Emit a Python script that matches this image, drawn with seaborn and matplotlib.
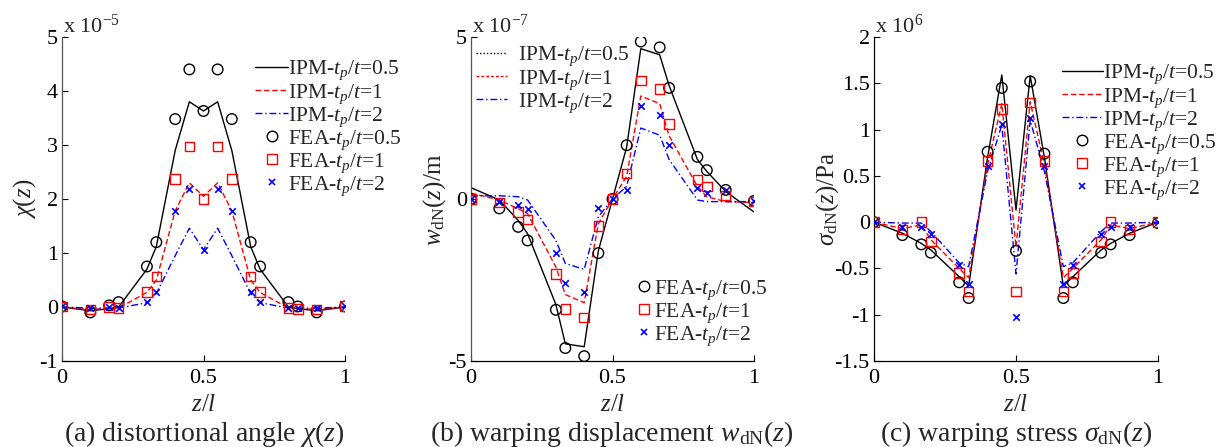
import numpy as np
import matplotlib
matplotlib.use("Agg")
import matplotlib.pyplot as plt
from matplotlib.lines import Line2D
import seaborn as sns

# Section positions along the girder (z/l)
z = [0, 0.1, 1/6, 0.2, 0.3, 1/3, 0.4, 0.45, 0.5, 0.55, 0.6, 2/3, 0.7, 0.8, 5/6, 0.9, 1.0]

# (a) distortional angle chi(z), units of 1e-5
chi_ipm_05 = [0, -0.07, -0.03, 0.0, 0.70, 1.12, 2.90, 3.80, 3.63, 3.80, 2.90, 1.12, 0.70, 0.0, -0.03, -0.07, 0]
chi_ipm_1 = [0, -0.05, -0.02, -0.02, 0.27, 0.50, 1.78, 2.30, 2.05, 2.30, 1.78, 0.50, 0.27, -0.02, -0.02, -0.05, 0]
chi_ipm_2 = [0, -0.02, -0.02, -0.02, 0.08, 0.25, 0.95, 1.46, 1.06, 1.46, 0.95, 0.25, 0.08, -0.02, -0.02, -0.02, 0]
chi_fea_05 = [0.01, -0.10, 0.03, 0.09, 0.75, 1.20, 3.48, 4.40, 3.63, 4.40, 3.48, 1.20, 0.75, 0.09, 0.01, -0.10, 0.01]
chi_fea_1 = [0.01, -0.05, 0.0, -0.02, 0.28, 0.56, 2.37, 2.97, 2.00, 2.97, 2.37, 0.56, 0.28, -0.02, -0.04, -0.05, 0.02]
chi_fea_2 = [0.01, -0.02, 0.0, -0.02, 0.09, 0.27, 1.78, 2.18, 1.06, 2.18, 1.78, 0.27, 0.09, -0.02, -0.02, -0.02, 0.02]

# (b) warping displacement w_dN(z), units of 1e-7 m
w_ipm_05 = [0.35, -0.03, -0.66, -1.07, -3.26, -4.47, -4.56, -1.60, 0.0, 1.60, 4.64, 4.45, 3.50, 1.22, 0.85, 0.23, -0.40]
w_ipm_1 = [0.18, -0.03, -0.30, -0.45, -2.10, -2.95, -3.20, -0.76, 0.0, 0.70, 3.18, 2.94, 1.95, 0.39, 0.07, -0.08, -0.11]
w_ipm_2 = [0.10, 0.10, 0.07, -0.03, -1.28, -1.99, -2.17, -0.55, 0.0, 0.39, 2.19, 1.97, 1.22, -0.03, -0.08, -0.08, -0.08]
w_fea_05 = [0.0, -0.29, -0.86, -1.28, -3.42, -4.60, -4.85, -1.67, 0.0, 1.66, 4.86, 4.68, 3.43, 1.30, 0.89, 0.28, -0.06]
w_fea_1 = [0.0, -0.11, -0.40, -0.64, -2.32, -3.39, -3.65, -0.83, 0.0, 0.78, 3.65, 3.40, 2.31, 0.61, 0.39, 0.10, -0.08]
w_fea_2 = [0.0, -0.08, -0.17, -0.31, -1.67, -2.58, -2.86, -0.29, 0.0, 0.28, 2.86, 2.60, 1.66, 0.33, 0.18, 0.28, -0.06]

# (c) warping stress sigma_dN(z), units of 1e6 Pa
s_ipm_05 = [0, -0.12, -0.23, -0.30, -0.59, -0.69, 0.70, 1.59, 0.13, 1.58, 0.70, -0.69, -0.59, -0.30, -0.23, -0.12, 0]
s_ipm_1 = [0, -0.07, -0.03, -0.19, -0.50, -0.60, 0.62, 1.28, -0.27, 1.30, 0.62, -0.60, -0.50, -0.19, -0.03, -0.07, 0]
s_ipm_2 = [0, -0.01, -0.01, -0.10, -0.44, -0.48, 0.55, 1.05, -0.56, 1.10, 0.55, -0.48, -0.44, -0.10, -0.01, -0.01, 0]
s_fea_05 = [0, -0.14, -0.24, -0.33, -0.65, -0.82, 0.76, 1.45, -0.31, 1.52, 0.74, -0.82, -0.65, -0.33, -0.24, -0.14, -0.01]
s_fea_1 = [0, -0.08, 0.0, -0.21, -0.55, -0.75, 0.66, 1.22, -0.75, 1.29, 0.66, -0.75, -0.55, -0.21, 0.0, -0.08, 0]
s_fea_2 = [0, -0.05, -0.05, -0.13, -0.46, -0.67, 0.61, 1.06, -1.02, 1.13, 0.61, -0.67, -0.46, -0.13, -0.05, -0.05, 0]

labels_ipm = [r"IPM-$t_p$/$t$=0.5", r"IPM-$t_p$/$t$=1", r"IPM-$t_p$/$t$=2"]
labels_fea = [r"FEA-$t_p$/$t$=0.5", r"FEA-$t_p$/$t$=1", r"FEA-$t_p$/$t$=2"]

sns.set_theme(style="white")
plt.rcParams.update({
    "font.family": ["Liberation Serif", "DejaVu Serif"],
    "mathtext.fontset": "custom",
    "mathtext.rm": "Liberation Serif",
    "mathtext.it": "Liberation Serif:italic",
    "mathtext.bf": "Liberation Serif:bold",
    "axes.unicode_minus": False,
    "xtick.direction": "in",
    "ytick.direction": "in",
})

W, H = 1224, 447
fig = plt.figure(figsize=(W / 100, H / 100), dpi=100)

BLUE = (0, 0, 1)
RED = (1, 0, 0)
RED_DASH = (0, (4, 2))
BLUE_DASHDOT = (0, (5, 2, 1, 2))
FS_TICK = 16
FS_LEG = 15.5
FS_LAB = 18
FS_CAP = 20


def fx(px):
    return px / W


def fy(py):
    return 1 - py / H


def make_axes(left_px, right_px, ylabel, ylabel_x_px):
    ax = fig.add_axes([fx(left_px), fy(361), (right_px - left_px) / W, (361 - 37) / H])
    for s in ("top", "right"):
        ax.spines[s].set_visible(False)
    ax.spines["left"].set_color("#555555")
    ax.spines["bottom"].set_color("black")
    for s in ("left", "bottom"):
        ax.spines[s].set_linewidth(0.9)
    ax.tick_params(axis="both", labelsize=FS_TICK, length=4, width=0.8,
                   colors="black", left=True, bottom=True)
    ax.tick_params(axis="x", pad=6)
    ax.tick_params(axis="y", pad=3)
    ax.set_xlim(0, 1)
    ax.set_xticks([0, 0.5, 1])
    ax.set_xticklabels(["0", "0.5", "1"])
    ax.set_xlabel(r"$z$/$l$", fontsize=FS_LAB, labelpad=4)
    ax.set_ylabel(ylabel, fontsize=FS_LAB)
    ax.yaxis.label.set_va("center")
    ax.yaxis.set_label_coords(fx(ylabel_x_px), fy(199), transform=fig.transFigure)
    return ax


def draw_series(ax, ipm, fea):
    styles = [("black", "-"), (RED, RED_DASH), (BLUE, BLUE_DASHDOT)]
    for vals, (c, ls) in zip(ipm, styles):
        sns.lineplot(x=z, y=vals, ax=ax, color=c, linestyle=ls, linewidth=1.0,
                     sort=False, estimator=None, legend=False)
    sns.scatterplot(x=z, y=fea[0], ax=ax, marker="o", s=58, facecolor="none",
                    edgecolor="black", linewidth=1.0, legend=False, zorder=3)
    sns.scatterplot(x=z, y=fea[1], ax=ax, marker="s", s=46, facecolor="none",
                    edgecolor=RED, linewidth=1.0, legend=False, zorder=3)
    sns.scatterplot(x=z, y=fea[2], ax=ax, marker="x", s=22, color=BLUE,
                    linewidth=1.2, legend=False, zorder=3)


def ipm_handles(dotted=False):
    if dotted:
        return [Line2D([], [], color="black", linestyle=(0, (1, 1.5)), lw=1.0),
                Line2D([], [], color=RED, linestyle=(0, (2, 1.5)), lw=1.0),
                Line2D([], [], color=BLUE, linestyle=BLUE_DASHDOT, lw=1.0)]
    return [Line2D([], [], color="black", linestyle="-", lw=1.0),
            Line2D([], [], color=RED, linestyle=RED_DASH, lw=1.0),
            Line2D([], [], color=BLUE, linestyle=BLUE_DASHDOT, lw=1.0)]


def fea_handles():
    return [Line2D([], [], color="black", marker="o", ms=7.6, mfc="none", mew=1.0, linestyle="none"),
            Line2D([], [], color=RED, marker="s", ms=6.8, mfc="none", mew=1.0, linestyle="none"),
            Line2D([], [], color=BLUE, marker="x", ms=4.7, mew=1.2, linestyle="none")]


def add_legend(ax, handles, labels, x_px, y_px, hlen, hpad):
    leg = ax.legend(handles, labels, loc="upper left",
                    bbox_to_anchor=(fx(x_px), fy(y_px)), bbox_transform=fig.transFigure,
                    frameon=False, fontsize=FS_LEG, handlelength=hlen,
                    handletextpad=hpad, labelspacing=-0.02, borderpad=0,
                    borderaxespad=0, numpoints=1)
    return leg


def exponent(ax_left_px, text):
    fig.text(fx(ax_left_px + 1), fy(33), text, fontsize=FS_TICK, ha="left", va="baseline")


def caption(center_px, text):
    fig.text(fx(center_px), fy(441), text, fontsize=FS_CAP, ha="center", va="baseline")


# (a)
axa = make_axes(62, 345, r"$\chi(z)$", 25)
draw_series(axa, [chi_ipm_05, chi_ipm_1, chi_ipm_2], [chi_fea_05, chi_fea_1, chi_fea_2])
axa.set_ylim(-1, 5)
axa.set_yticks(range(-1, 6))
axa.set_yticklabels([str(v) for v in range(-1, 6)])
add_legend(axa, ipm_handles() + fea_handles(), labels_ipm + labels_fea, 255, 59, 1.55, 0.0)
exponent(62, r"x 10$^{-5}$")
caption(204, r"(a) distortional angle $\chi(z)$")

# (b)
axb = make_axes(471, 754, r"$w_{\rm dN}(z)$/m", 435)
draw_series(axb, [w_ipm_05, w_ipm_1, w_ipm_2], [w_fea_05, w_fea_1, w_fea_2])
axb.set_ylim(-5, 5)
axb.set_yticks([-5, 0, 5])
axb.set_yticklabels(["-5", "0", "5"])
leg_b1 = add_legend(axb, ipm_handles(dotted=True), labels_ipm, 476, 45, 1.45, 0.5)
axb.add_artist(leg_b1)
add_legend(axb, fea_handles(), labels_fea, 638, 278, 0.55, 0.2)
exponent(471, r"x 10$^{-7}$")
caption(612, r"(b) warping displacement $w_{\rm dN}(z)$")

# (c)
axc = make_axes(874, 1158, r"$\sigma_{\rm dN}(z)$/Pa", 828)
axc.spines["left"].set_color("black")
draw_series(axc, [s_ipm_05, s_ipm_1, s_ipm_2], [s_fea_05, s_fea_1, s_fea_2])
axc.set_ylim(-1.5, 2)
axc.set_yticks([-1.5, -1, -0.5, 0, 0.5, 1, 1.5, 2])
axc.set_yticklabels(["-1.5", "-1", "-0.5", "0", "0.5", "1", "1.5", "2"])
add_legend(axc, ipm_handles() + fea_handles(), labels_ipm + labels_fea, 1062, 63, 1.9, 0.0)
exponent(874, r"x 10$^{6}$")
caption(1016, r"(c) warping stress $\sigma_{\rm dN}(z)$")

fig.savefig("out.png", dpi=100, facecolor="white")
